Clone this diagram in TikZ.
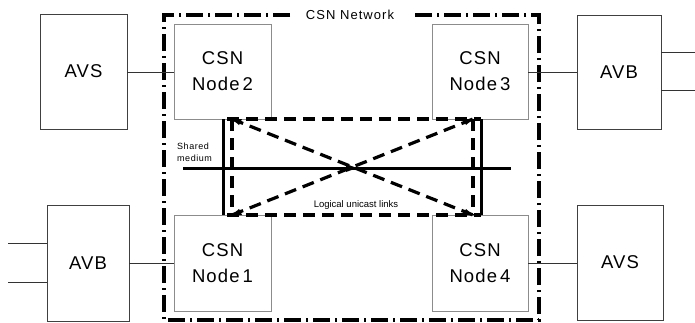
\documentclass[tikz,border=0pt]{standalone}
\usepackage{fontspec}
\setmainfont{Liberation Sans}[LetterSpace=6]
\usetikzlibrary{arrows.meta}
\begin{document}
\begin{tikzpicture}[x=1pt,y=-1pt,
  extbox/.style={draw=black!75,line width=0.8pt,fill=white,font=\fontsize{18.5}{20}\selectfont,align=center,inner sep=0pt},
  csnbox/.style={draw=black!45,line width=0.9pt,fill=white,font=\fontsize{18.5}{26}\selectfont,align=center,inner sep=0pt},
  link/.style={draw=black!80,line width=0.7pt},
  frame/.style={line width=3.2pt,dash pattern=on 17pt off 5pt on 2pt off 5pt},
  ucast/.style={line width=3.2pt,dash pattern=on 12pt off 7pt},
  medium/.style={line width=3pt},
  small/.style={font=\fontsize{9}{12}\selectfont,inner sep=0pt,align=left}]
\useasboundingbox (0,0) rectangle (695,322);
% outer frame
\draw[frame] (290,15) -- (164,15) -- (164,320) -- (539,320) -- (539,15) -- (412,15);
\node[font=\fontsize{13}{15}\selectfont\addfontfeatures{LetterSpace=8},inner sep=0pt] (net) at (350,15) {CSN Network};
% external boxes
\node[extbox,minimum width=87pt,minimum height=115pt] (avsL) at (83.5,71.5) {AVS};
\node[extbox,minimum width=84pt,minimum height=114pt] (avbR) at (619,72) {AVB};
\node[extbox,minimum width=82pt,minimum height=116pt] (avbL) at (88,263) {AVB};
\node[extbox,minimum width=86pt,minimum height=115pt] (avsR) at (620,262.5) {AVS};
% CSN nodes
\node[csnbox,minimum width=97pt,minimum height=95pt] (n2) at (222.5,71.5) {CSN\\Node\,2};
\node[csnbox,minimum width=96pt,minimum height=95pt] (n3) at (480,71.5) {CSN\\Node\,3};
\node[csnbox,minimum width=97pt,minimum height=96pt] (n1) at (222.5,263) {CSN\\Node\,1};
\node[csnbox,minimum width=96pt,minimum height=96pt] (n4) at (480,263) {CSN\\Node\,4};
% links
\draw[link] (avsL.east |- 0,72) -- (n2.west |- 0,72);
\draw[link] (n3.east |- 0,72) -- (avbR.west |- 0,72);
\draw[link] (avbL.east |- 0,263) -- (n1.west |- 0,263);
\draw[link] (n4.east |- 0,263) -- (avsR.west |- 0,263);
\coordinate (r1) at (695,52);
\coordinate (r2) at (695,90);
\coordinate (l1) at (8,243);
\coordinate (l2) at (8,282);
\draw[link] (avbR.east |- r1) -- (r1);
\draw[link] (avbR.east |- r2) -- (r2);
\draw[link] (l1) -- (avbL.west |- l1);
\draw[link] (l2) -- (avbL.west |- l2);
% shared medium
\coordinate (ms) at (183,168);
\coordinate (me) at (511,168);
\coordinate (mc) at (352,168);
\draw[medium] (ms) -- (me);
\draw[medium] (n2.south -| 223,0) -- (n1.north -| 223,0);
\draw[medium] (n3.south -| 481,0) -- (n4.north -| 481,0);
\fill (mc) ++(-6,-4) -- ++(11,4) -- ++(-11,4) -- cycle;
% logical unicast links
\coordinate (a) at (232,119);
\coordinate (b) at (473,119);
\coordinate (c) at (473,215);
\coordinate (d) at (232,215);
\draw[ucast] (227,119) -- (481,119);
\draw[ucast] (227,215) -- (481,215);
\draw[ucast] (a) -- (d);
\draw[ucast] (b) -- (c);
\draw[ucast] (a) -- (c);
\draw[ucast] (d) -- (b);
\fill (a) -- ++(10,0) -- ++(-3,6) -- cycle;
\fill (c) -- ++(-10,0) -- ++(3,-6) -- cycle;
\fill (d) -- ++(10,0) -- ++(-3,-6) -- cycle;
\fill (b) -- ++(-10,0) -- ++(3,6) -- cycle;
\node[small,anchor=west] (sm) at (177,152) {Shared\\medium};
\node[small,font=\fontsize{9.5}{11}\selectfont\addfontfeatures{LetterSpace=0},anchor=center] (lu) at (356,205) {Logical unicast links};
\end{tikzpicture}
\end{document}
